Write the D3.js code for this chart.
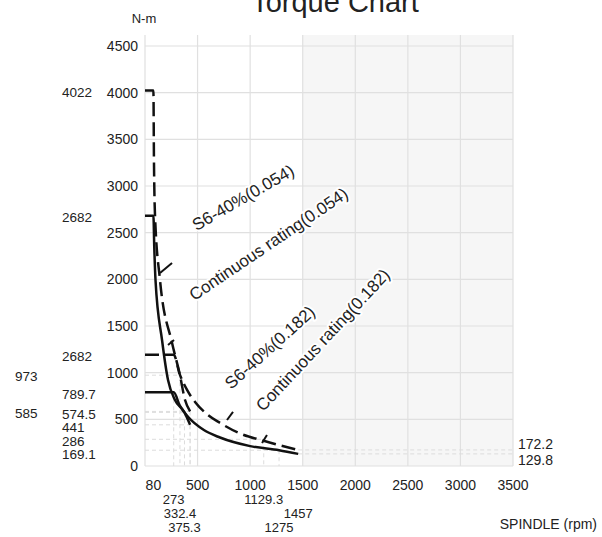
<!DOCTYPE html>
<html lang="en">
<head>
<meta charset="utf-8">
<title>Torque Chart</title>
<script src="https://cdn.jsdelivr.net/npm/d3@7"></script>
<style>
  body{margin:0;background:#fff;font-family:"Liberation Sans",Arial,sans-serif;}
  svg text{fill:#222;}
  .halo{paint-order:stroke;stroke:#fff;stroke-width:4px;stroke-linejoin:round;}
</style>
</head>
<body>
<div id="chart"></div>
<script>
// values (rpm / N-m)
var rpmTicks = [80, 500, 1000, 1500, 2000, 2500, 3000, 3500]
var gridRpm = [0, 500, 1000, 1500, 2000, 2500, 3000, 3500]
var torqueTicks = [0, 500, 1000, 1500, 2000, 2500, 3000, 3500, 4000, 4500]

// S6-40%(0.054)
var s6LowRpm = [0, 80, 85, 95, 143, 257, 332.4, 380, 429]
var s6LowTorque = [4022, 4022, 3300, 2690, 1990, 1320, 973, 710, 585]
// Continuous rating(0.054)
var contLowRpm = [0, 80, 88, 100, 162, 219, 285, 375.3, 429]
var contLowTorque = [2682, 2682, 2350, 1990, 1350, 921, 707, 574.5, 441]
// S6-40%(0.182)
var s6HighRpm = [0, 273, 330, 400, 480, 600, 713, 900, 1129.3, 1457]
var s6HighTorque = [1193, 1193, 985, 815, 680, 545, 462, 350, 270, 172.2]
// Continuous rating(0.182)
var contHighRpm = [0, 273, 330, 409, 560, 713, 1000, 1275, 1457]
var contHighTorque = [789.7, 789.7, 650, 527, 385, 305, 213, 169.1, 129.8]

// marked values along the axes
var leftMarkValue = [4022, 2682, 1193, 789.7, 574.5, 441, 286, 169.1]
var leftMarkText = ["4022", "2682", "2682", "789.7", "574.5", "441", "286", "169.1"]
var farLeftMarks = [973, 585]
var rightMarks = [172.2, 129.8]
var rpmMarkRows = [[273, 1129.3], [332.4, 1457], [375.3, 1275]]

// break points that get faint guide lines
var guideRpm = [273, 332.4, 375.3, 429, 429, 1129.3, 1275]
var guideTorque = [789.7, 973, 574.5, 441, 585, 286, 169.1]

var curveNames = ["S6-40%(0.054)", "Continuous rating(0.054)", "S6-40%(0.182)", "Continuous rating(0.182)"]
var nameRpm = [490, 468, 820, 1125]
var nameTorque = [2515, 1765, 815, 575]

// small leader ticks on the curves
var leaderFrom = [[143, 2068], [219, 1296], [780, 493], [1113, 246]]
var leaderTo = [[257, 2175], [276, 1350], [837, 579], [1160, 332]]

var w = 602, h = 537
var x = d3.scaleLinear().domain([0, 3500]).range([145, 513])
var y = d3.scaleLinear().domain([0, 4500]).range([466, 46])

var svg = d3.select("#chart").append("svg")
    .attr("width", w).attr("height", h)
    .style("background", "#fff")

// shaded part of the plot
svg.append("rect")
    .attr("x", x(1500)).attr("y", y(4500) - 11)
    .attr("width", x(3500) - x(1500)).attr("height", y(0) - y(4500) + 11)
    .attr("fill", "#f6f6f6")

// grid
svg.append("g").selectAll("line").data(torqueTicks).enter().append("line")
    .attr("x1", x(0)).attr("x2", x(3500))
    .attr("y1", function(d){ return y(d) }).attr("y2", function(d){ return y(d) })
    .attr("stroke", "#e0e0e0").attr("stroke-width", 1.2)
svg.append("g").selectAll("line").data(gridRpm).enter().append("line")
    .attr("y1", y(4500) - 11).attr("y2", y(0))
    .attr("x1", function(d){ return x(d) }).attr("x2", function(d){ return x(d) })
    .attr("stroke", "#e0e0e0").attr("stroke-width", 1.2)

// faint guides from the break points to the axes
var guides = svg.append("g").attr("stroke", "#dcdcdc").attr("stroke-dasharray", "4,3").attr("fill", "none")
guideRpm.forEach(function(r, i){
    guides.append("line").attr("x1", x(0)).attr("x2", x(r))
        .attr("y1", y(guideTorque[i])).attr("y2", y(guideTorque[i]))
    guides.append("line").attr("x1", x(r)).attr("x2", x(r))
        .attr("y1", y(guideTorque[i])).attr("y2", y(0))
})
rightMarks.forEach(function(t){
    guides.append("line").attr("x1", x(1457)).attr("x2", x(3500))
        .attr("y1", y(t)).attr("y2", y(t))
})

// curves
var line = d3.line()
    .x(function(d){ return x(d[0]) })
    .y(function(d){ return y(d[1]) })
    .curve(d3.curveMonotoneX)

function drawCurve(rpm, torque, dashed){
    svg.append("path")
        .datum(d3.zip(rpm, torque))
        .attr("d", line)
        .attr("fill", "none")
        .attr("stroke", "#111")
        .attr("stroke-width", 2.5)
        .attr("stroke-dasharray", dashed ? "14,6" : null)
}
drawCurve(contHighRpm, contHighTorque, false)
drawCurve(s6HighRpm, s6HighTorque, true)
drawCurve(contLowRpm, contLowTorque, false)
drawCurve(s6LowRpm, s6LowTorque, true)

svg.append("g").selectAll("line").data(leaderFrom).enter().append("line")
    .attr("x1", function(d){ return x(d[0]) }).attr("y1", function(d){ return y(d[1]) })
    .attr("x2", function(d, i){ return x(leaderTo[i][0]) }).attr("y2", function(d, i){ return y(leaderTo[i][1]) })
    .attr("stroke", "#111").attr("stroke-width", 2)

// curve names
var nameAngle = [-30, -34, -42, -47]
curveNames.forEach(function(n, i){
    var px = x(nameRpm[i]), py = y(nameTorque[i])
    svg.append("text")
        .attr("class", "halo")
        .attr("transform", "translate(" + px + "," + py + ") rotate(" + nameAngle[i] + ")")
        .style("font-size", "17px")
        .text(n)
})

// y tick labels
svg.append("g").selectAll("text").data(torqueTicks).enter().append("text")
    .attr("x", x(0) - 7).attr("y", function(d){ return y(d) })
    .attr("dy", "0.35em").attr("text-anchor", "end")
    .style("font-size", "14px")
    .text(function(d){ return d })

// x tick labels
svg.append("g").selectAll("text").data(rpmTicks).enter().append("text")
    .attr("x", function(d){ return x(d) }).attr("y", y(0) + 24)
    .attr("text-anchor", "middle")
    .style("font-size", "14px")
    .text(function(d){ return d })

rpmMarkRows.forEach(function(row, r){
    svg.append("g").selectAll("text").data(row).enter().append("text")
        .attr("x", function(d){ return x(d) }).attr("y", y(0) + 38 + r * 14)
        .attr("text-anchor", "middle")
        .style("font-size", "13px")
        .text(function(d){ return d })
})

// marked torque values on the left, pushed apart where they crowd
var prev = -100
leftMarkValue.forEach(function(v, i){
    var py = Math.max(y(v) + 1.5, prev + 13.5)
    prev = py
    svg.append("text")
        .attr("x", 62).attr("y", py).attr("dy", "0.35em")
        .style("font-size", "13.5px")
        .text(leftMarkText[i])
})
farLeftMarks.forEach(function(v){
    svg.append("text")
        .attr("x", 15).attr("y", y(v) + 1.5).attr("dy", "0.35em")
        .style("font-size", "13.5px")
        .text(v)
})

// torque values at the top speed, on the right
var mid = d3.mean(rightMarks, function(d){ return y(d) })
rightMarks.forEach(function(v, i){
    svg.append("text")
        .attr("x", x(3500) + 5).attr("y", mid + (i - 0.5) * 16).attr("dy", "0.35em")
        .style("font-size", "14px")
        .text(v)
})

// titles
svg.append("text")
    .attr("x", 335).attr("y", 12)
    .attr("text-anchor", "middle")
    .style("font-size", "29px")
    .text("Torque Chart")
svg.append("text")
    .attr("x", x(0) - 1).attr("y", 23)
    .attr("text-anchor", "middle")
    .style("font-size", "13px")
    .text("N-m")
svg.append("text")
    .attr("x", 597).attr("y", 529)
    .attr("text-anchor", "end")
    .style("font-size", "14px")
    .text("SPINDLE (rpm)")
</script>
</body>
</html>
